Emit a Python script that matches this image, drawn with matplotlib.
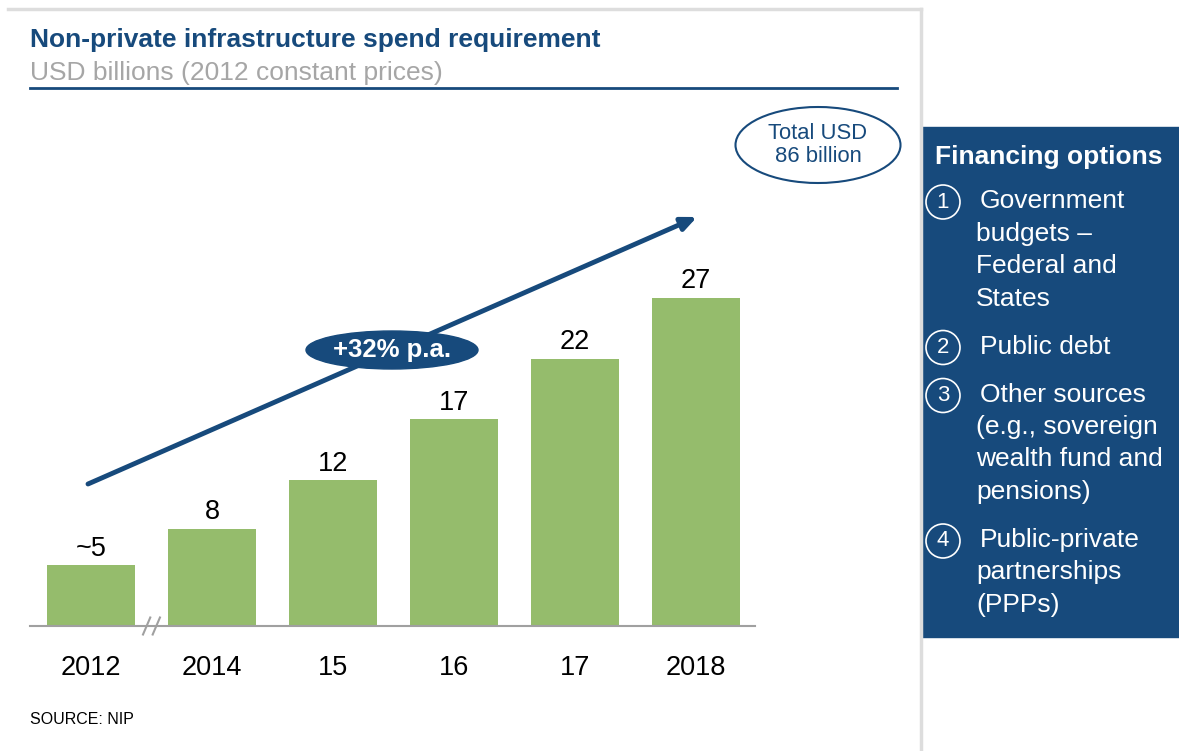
import matplotlib
matplotlib.use("Agg")
import matplotlib.pyplot as plt
from matplotlib.patches import Ellipse, Rectangle, Circle

plt.rcParams['font.family'] = ['Liberation Sans', 'DejaVu Sans']

# data
years = ["2012", "2014", "15", "16", "17", "2018"]
values = [5, 8, 12, 17, 22, 27]
value_labels = ["~5", "8", "12", "17", "22", "27"]
growth_label = "+32% p.a."
total_label = "Total USD\n86 billion"
options_title = "Financing options"
options = [
    ("1", ["Government", "budgets \u2013", "Federal and", "States"]),
    ("2", ["Public debt"]),
    ("3", ["Other sources", "(e.g., sovereign", "wealth fund and", "pensions)"]),
    ("4", ["Public-private", "partnerships", "(PPPs)"]),
]

navy = "#174A7C"
green = "#95BC6C"
W, H = 1179, 751

fig = plt.figure(figsize=(W / 100, H / 100), dpi=100)

# overlay axes in pixel coordinates
ov = fig.add_axes([0, 0, 1, 1])
ov.set_xlim(0, W)
ov.set_ylim(H, 0)
ov.axis("off")

# bar axes
ax = fig.add_axes([30 / W, 1 - 626 / H, 725 / W, 526 / H])
x = list(range(len(values)))
ax.bar(x, values, width=0.73, color=green, zorder=2)
ax.set_xlim(-0.504, 5.488)
ax.set_ylim(0, 526 / 12.15)
for s in ["top", "right", "left"]:
    ax.spines[s].set_visible(False)
ax.spines["bottom"].set_color("#A0A0A0")
ax.spines["bottom"].set_linewidth(1.5)
ax.set_yticks([])
ax.set_xticks(x)
ax.set_xticklabels(years, fontsize=19.5)
ax.tick_params(axis="x", length=0, pad=21)
ax.patch.set_alpha(0)
for xi, v, lab in zip(x, values, value_labels):
    ax.text(xi, v + 0.3, lab, ha="center", va="bottom", fontsize=19.5)

# axis break marks
for dx in (-0.04, 0.04):
    ax.plot([0.5 + dx - 0.03, 0.5 + dx + 0.03], [-0.7, 0.7], color="#A0A0A0",
            lw=1.5, clip_on=False, zorder=3)
ax.add_patch(Rectangle((0.47, -0.3), 0.08, 0.6, color="white", clip_on=False, zorder=2.5))

# frame lines
ov.plot([8, 921], [9, 9], color="#DDDDDD", lw=2.5)
ov.plot([921, 921], [9, H], color="#DDDDDD", lw=2.5)

# title
ov.text(30, 40, "Non-private infrastructure spend requirement", fontsize=19,
        fontweight="bold", color=navy, va="center", ha="left")
ov.text(30, 73, "USD billions (2012 constant prices)", fontsize=19,
        color="#A6A6A6", va="center", ha="left")
ov.plot([30, 897], [88, 88], color=navy, lw=2)

# growth arrow
ov.annotate("", xy=(697, 217), xytext=(88, 484),
            arrowprops=dict(arrowstyle="-|>,head_length=0.9,head_width=0.4",
                            color=navy, lw=3.5, shrinkA=0, shrinkB=0))
ov.add_patch(Ellipse((392, 350), 172, 38, color=navy, zorder=4))
ov.text(392, 350, growth_label, fontsize=18.5, fontweight="bold", color="white",
        ha="center", va="center", zorder=5)

# total ellipse
ov.add_patch(Ellipse((818, 145), 165, 76, fill=False, edgecolor=navy, lw=1.5))
ov.text(818, 145, total_label, fontsize=15.8, color=navy, ha="center",
        va="center", linespacing=1.15)

# financing options panel
ov.add_patch(Rectangle((921, 127), W - 921, 510, color=navy))
ov.text(1049, 157, options_title, fontsize=19, fontweight="bold",
        color="white", ha="center", va="center")
y0 = 201
for num, lines in options:
    ov.add_patch(Circle((943, y0 + 1), 17, fill=False, edgecolor="white", lw=1.2))
    ov.text(943, y0 + 1, num, fontsize=16, color="white", ha="center", va="center")
    for i, line in enumerate(lines):
        ov.text(976 + (4 if i == 0 else 0), y0 + i * 32.5, line, fontsize=19,
                color="white", ha="left", va="center")
    y0 += len(lines) * 32.5 + 15.5

ov.text(30, 719, "SOURCE: NIP", fontsize=11.5, color="black", ha="left", va="center")

fig.savefig("out.png", dpi=100)
